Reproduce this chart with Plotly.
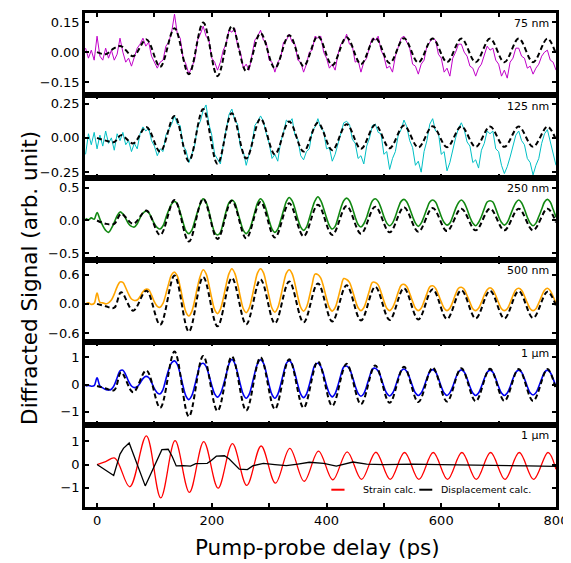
import plotly.graph_objects as go
from plotly.subplots import make_subplots

# ---------------- data ----------------
# measured traces, sampled every 5 ps from -20 to 800 ps
t_exp = list(range(-20, 801, 5))

sig_75nm = [
    0.02, -0.03, 0.01, -0.04, 0.08, -0.02, -0.04, 0.02, -0.03, 0.01, -0.04, -0.01, 0.07, 0.0, -0.05, -0.03,
    -0.07, -0.02, 0.02, 0.04, 0.07, 0.03, 0.05, -0.02, -0.05, -0.08, -0.05, -0.04, 0.03, 0.05, 0.10,
    0.19, 0.09, 0.07, -0.03, -0.06, -0.11, -0.07, -0.04, 0.06, 0.09,
    0.13, 0.08, 0.06, -0.03, -0.05, -0.09, -0.05, 0.01, 0.04, 0.11,
    0.10, 0.12, 0.03, 0.00, -0.08, -0.06, -0.09, -0.02, 0.06, 0.08,
    0.11, 0.06, 0.05, -0.04, -0.05, -0.10, -0.05, -0.03, 0.05, 0.06,
    0.09, 0.05, 0.04, -0.04, -0.05, -0.10, -0.06, 0.00, 0.01, 0.08,
    0.07, 0.08, 0.00, -0.03, -0.08, -0.06, -0.09, -0.01, 0.04, 0.05,
    0.09, 0.04, 0.03, -0.05, -0.04, -0.10, -0.05, -0.03, 0.03, 0.07,
    0.06, 0.08, 0.01, -0.02, -0.08, -0.07, -0.10, -0.02, 0.02, 0.07,
    0.08, 0.05, 0.02, -0.06, -0.07, -0.11, -0.06, -0.04, 0.03, 0.05,
    0.07, 0.06, -0.01, -0.03, -0.10, -0.08, -0.12, -0.03, 0.00, 0.04,
    0.04, 0.00, -0.02, -0.07, -0.08, -0.12, -0.08, -0.06, -0.01, 0.03,
    0.01, 0.02, -0.04, -0.06, -0.12, -0.09, -0.13, -0.05, -0.03, 0.02,
    0.02, -0.02, -0.03, -0.08, -0.07, -0.11, -0.08, -0.06, -0.02, 0.00,
    0.01, -0.04, -0.05, -0.09,
]

sig_125nm = [
    -0.12, 0.03, -0.05, 0.04, -0.08, 0.02, -0.06, 0.05, -0.04, 0.00, -0.09, 0.03, -0.02, 0.04, -0.05, -0.02,
    -0.10, -0.04, -0.08, 0.03, 0.08, 0.05, 0.07, -0.02, -0.06, -0.13, -0.08, -0.10, 0.02, 0.06, 0.10,
    0.16, 0.10, 0.09, -0.06, -0.09, -0.18, -0.12, -0.06, 0.08, 0.12,
    0.20, 0.24, 0.10, 0.02, -0.12, -0.16, -0.19, -0.05, 0.06, 0.17,
    0.21, 0.13, 0.10, -0.07, -0.10, -0.20, -0.12, -0.05, 0.09, 0.12,
    0.16, 0.12, 0.03, -0.04, -0.15, -0.12, -0.17, -0.03, 0.04, 0.13,
    0.11, 0.14, 0.02, -0.01, -0.13, -0.16, -0.10, -0.08, 0.05, 0.08,
    0.14, 0.07, 0.05, -0.08, -0.07, -0.17, -0.12, -0.04, 0.02, 0.11,
    0.12, 0.10, -0.01, -0.04, -0.15, -0.13, -0.19, -0.06, 0.00, 0.09,
    0.10, 0.04, 0.03, -0.12, -0.10, -0.23, -0.15, -0.10, 0.02, 0.06,
    0.13, 0.08, -0.02, -0.07, -0.20, -0.17, -0.25, -0.10, -0.02, 0.10,
    0.14, 0.05, 0.04, -0.12, -0.10, -0.24, -0.18, -0.08, 0.00, 0.07,
    0.11, 0.06, -0.03, -0.06, -0.18, -0.16, -0.22, -0.09, -0.04, 0.05,
    0.03, 0.05, -0.08, -0.10, -0.20, -0.26, -0.21, -0.14, -0.06, 0.02,
    0.05, -0.02, -0.05, -0.15, -0.18, -0.27, -0.20, -0.15, -0.04, 0.03,
    0.06, -0.03, -0.12, -0.20,
]

sig_250nm = [
    0.03, 0.01, 0.04, 0.02, 0.12, 0.02, -0.08, -0.15, -0.18, -0.12, -0.03, 0.07, 0.13, 0.10, 0.03, -0.05,
    -0.09, -0.10, -0.05, 0.04, 0.11, 0.14, 0.12, 0.04, -0.05, -0.11, -0.13, -0.08, 0.04, 0.16, 0.25,
    0.29, 0.25, 0.12, -0.03, -0.16, -0.20, -0.15, -0.02, 0.13, 0.25,
    0.33, 0.28, 0.14, -0.04, -0.18, -0.22, -0.18, -0.03, 0.14, 0.27,
    0.31, 0.27, 0.13, -0.02, -0.15, -0.20, -0.15, -0.03, 0.13, 0.27,
    0.33, 0.28, 0.16, 0.00, -0.13, -0.18, -0.13, 0.00, 0.15, 0.29,
    0.35, 0.30, 0.18, 0.02, -0.10, -0.15, -0.10, 0.03, 0.18, 0.30,
    0.36, 0.30, 0.18, 0.04, -0.08, -0.13, -0.09, 0.04, 0.19, 0.30,
    0.34, 0.30, 0.19, 0.05, -0.06, -0.10, -0.05, 0.05, 0.19, 0.30,
    0.33, 0.29, 0.19, 0.06, -0.04, -0.08, -0.04, 0.06, 0.19, 0.29,
    0.32, 0.28, 0.18, 0.06, -0.04, -0.09, -0.04, 0.06, 0.18, 0.28,
    0.31, 0.28, 0.18, 0.06, -0.03, -0.07, -0.04, 0.06, 0.18, 0.27,
    0.31, 0.27, 0.17, 0.05, -0.04, -0.08, -0.03, 0.06, 0.18, 0.28,
    0.30, 0.28, 0.18, 0.06, -0.03, -0.07, -0.03, 0.07, 0.18, 0.27,
    0.31, 0.27, 0.17, 0.05, -0.04, -0.08, -0.04, 0.06, 0.17, 0.28,
    0.32, 0.28, 0.17, 0.05,
]

sig_500nm = [
    0.00, 0.02, -0.01, 0.01, 0.22, 0.03, 0.02, 0.00, 0.02, 0.08, 0.20, 0.35, 0.45, 0.44, 0.33, 0.20,
    0.10, 0.07, 0.08, 0.15, 0.25, 0.30, 0.29, 0.18, 0.04, -0.05, -0.07, 0.01, 0.20, 0.42, 0.60,
    0.65, 0.57, 0.34, 0.06, -0.17, -0.25, -0.16, 0.06, 0.34, 0.57,
    0.70, 0.62, 0.39, 0.11, -0.12, -0.20, -0.11, 0.11, 0.39, 0.62,
    0.72, 0.63, 0.41, 0.13, -0.10, -0.18, -0.09, 0.13, 0.41, 0.64,
    0.72, 0.64, 0.41, 0.14, -0.09, -0.17, -0.08, 0.14, 0.41, 0.63,
    0.70, 0.62, 0.41, 0.14, -0.07, -0.15, -0.07, 0.14, 0.40, 0.61,
    0.60, 0.53, 0.34, 0.11, -0.08, -0.15, -0.08, 0.11, 0.34, 0.52,
    0.50, 0.44, 0.28, 0.08, -0.08, -0.14, -0.08, 0.08, 0.28, 0.44,
    0.44, 0.39, 0.24, 0.06, -0.09, -0.14, -0.08, 0.06, 0.24, 0.38,
    0.40, 0.35, 0.21, 0.05, -0.09, -0.14, -0.09, 0.05, 0.21, 0.35,
    0.37, 0.32, 0.19, 0.04, -0.09, -0.14, -0.09, 0.04, 0.20, 0.32,
    0.34, 0.30, 0.17, 0.03, -0.10, -0.14, -0.09, 0.03, 0.18, 0.29,
    0.33, 0.29, 0.17, 0.02, -0.10, -0.14, -0.10, 0.02, 0.17, 0.29,
    0.32, 0.28, 0.16, 0.02, -0.10, -0.14, -0.10, 0.02, 0.16, 0.28,
    0.32, 0.27, 0.15, 0.01,
]

sig_1um = [
    -0.05, -0.03, -0.06, -0.04, 0.25, -0.05, -0.12, -0.18, -0.20, -0.17, -0.02, 0.25, 0.50, 0.53, 0.36, 0.12,
    -0.05, -0.11, -0.08, 0.05, 0.22, 0.30, 0.26, 0.08, -0.15, -0.30, -0.34, -0.18, 0.20, 0.55, 0.80,
    0.87, 0.74, 0.38, -0.06, -0.42, -0.55, -0.41, -0.06, 0.37, 0.72,
    0.78, 0.67, 0.35, -0.03, -0.34, -0.46, -0.34, -0.03, 0.36, 0.76,
    0.92, 0.78, 0.43, -0.01, -0.36, -0.50, -0.37, -0.01, 0.43, 0.78,
    0.91, 0.79, 0.43, -0.02, -0.37, -0.50, -0.36, 0.00, 0.42, 0.78,
    0.88, 0.75, 0.41, -0.01, -0.35, -0.48, -0.35, -0.01, 0.40, 0.73,
    0.78, 0.66, 0.36, -0.03, -0.33, -0.45, -0.33, -0.02, 0.35, 0.65,
    0.68, 0.58, 0.30, -0.05, -0.32, -0.43, -0.33, -0.05, 0.29, 0.57,
    0.60, 0.50, 0.25, -0.07, -0.32, -0.42, -0.32, -0.07, 0.25, 0.50,
    0.57, 0.48, 0.24, -0.06, -0.31, -0.40, -0.31, -0.07, 0.23, 0.47,
    0.55, 0.47, 0.23, -0.07, -0.31, -0.40, -0.30, -0.07, 0.23, 0.46,
    0.54, 0.46, 0.22, -0.08, -0.31, -0.40, -0.31, -0.07, 0.22, 0.45,
    0.53, 0.45, 0.22, -0.08, -0.31, -0.40, -0.31, -0.08, 0.22, 0.45,
    0.53, 0.45, 0.22, -0.07, -0.30, -0.38, -0.30, -0.07, 0.21, 0.45,
    0.53, 0.44, 0.21, -0.08,
]

# calculated diffraction (dashed), sampled at turning points
t_calc = [0, 15, 30, 42, 63, 86, 110, 135, 160, 185, 210, 235, 260, 285, 310, 335, 360, 385, 410,
          435, 460, 485, 510, 535, 560, 585, 610, 635, 660, 685, 710, 735, 760, 785, 800]
calc_75nm = [0.0, -0.01, 0.02, 0.03, -0.02, 0.064, -0.073, 0.12, -0.11, 0.148, -0.12, 0.13, -0.095,
             0.095, -0.08, 0.085, -0.07, 0.08, -0.065, 0.075, -0.06, 0.072, -0.055, 0.07, -0.052,
             0.068, -0.05, 0.068, -0.05, 0.068, -0.05, 0.068, -0.05, 0.068, -0.01]
calc_125nm = [0.0, -0.02, -0.03, 0.02, -0.04, 0.08, -0.10, 0.16, -0.17, 0.21, -0.19, 0.18, -0.15,
              0.14, -0.12, 0.12, -0.10, 0.11, -0.09, 0.10, -0.08, 0.095, -0.075, 0.09, -0.07,
              0.085, -0.068, 0.083, -0.066, 0.082, -0.065, 0.082, -0.065, 0.082, -0.015]
calc_250nm = [0.0, -0.05, -0.05, 0.10, -0.05, 0.15, -0.22, 0.31, -0.32, 0.33, -0.28, 0.30, -0.27,
              0.28, -0.26, 0.26, -0.24, 0.24, -0.22, 0.22, -0.20, 0.21, -0.18, 0.20, -0.17,
              0.19, -0.16, 0.18, -0.15, 0.18, -0.15, 0.18, -0.15, 0.18, -0.03]
calc_500nm = [0.0, -0.05, -0.08, 0.24, -0.14, 0.27, -0.43, 0.58, -0.57, 0.55, -0.46, 0.53, -0.42,
              0.50, -0.40, 0.46, -0.38, 0.42, -0.36, 0.38, -0.34, 0.35, -0.33, 0.32, -0.32,
              0.30, -0.31, 0.28, -0.30, 0.27, -0.30, 0.26, -0.29, 0.25, -0.04]
calc_1um = [-0.05, -0.14, -0.20, 0.45, -0.28, 0.52, -0.85, 1.21, -1.17, 1.05, -0.97, 1.03, -0.95,
            1.00, -0.90, 0.93, -0.85, 0.85, -0.78, 0.76, -0.72, 0.70, -0.67, 0.65, -0.64,
            0.62, -0.62, 0.60, -0.61, 0.58, -0.60, 0.57, -0.60, 0.57, -0.20]

# bottom panel: calculated strain and displacement (1 um)
t_strain = [0, 15, 31, 57, 86, 111, 136, 161, 186, 211, 236, 261, 286, 311, 336, 361, 386, 411,
            436, 461, 486, 511, 536, 561, 586, 611, 636, 661, 686, 711, 736, 761, 786, 800]
strain_1um = [0.0, 0.13, 0.28, -0.96, 1.24, -1.44, 1.03, -1.20, 0.99, -1.02, 0.90, -0.90, 0.80,
              -0.80, 0.70, -0.72, 0.58, -0.66, 0.55, -0.64, 0.53, -0.64, 0.52, -0.64, 0.52,
              -0.64, 0.52, -0.64, 0.52, -0.64, 0.52, -0.64, 0.52, -0.20]
t_disp = [0, 29, 40, 46, 56, 84, 113, 124, 131, 138, 150, 163, 172, 192, 198, 208, 222, 230, 248,
          262, 272, 290, 310, 330, 350, 370, 395, 417, 446, 470, 500, 550, 600, 650, 700, 750, 800]
disp_1um = [0.0, -0.47, 0.45, 0.70, 0.93, -0.92, 0.64, 0.66, 0.35, -0.06, -0.05, -0.07, 0.04, 0.05,
            0.15, 0.36, 0.38, 0.25, -0.20, -0.22, -0.05, 0.05, 0.00, -0.05, 0.02, 0.10, 0.05, -0.07,
            0.11, 0.02, 0.00, 0.02, 0.00, -0.03, -0.05, -0.06, -0.08]

panel_labels = ["75 nm", "125 nm", "250 nm", "500 nm", "1 µm", "1 µm"]
y_ranges = [[-0.216, 0.196], [-0.29, 0.31], [-0.6, 0.65], [-0.79, 0.9], [-1.47, 1.55], [-1.83, 1.72]]
y_ticks = [[-0.15, 0.0, 0.15], [-0.25, 0.0, 0.25], [-0.5, 0.0, 0.5], [-0.6, 0.0, 0.6], [-1, 0, 1], [-1, 0, 1]]
y_formats = [".2f", ".2f", ".1f", ".1f", "d", "d"]
x_tickvals = [0, 100, 200, 300, 400, 500, 600, 700, 800]
x_ticktext = ["0", "", "200", "", "400", "", "600", "", "800"]

measured = [sig_75nm, sig_125nm, sig_250nm, sig_500nm, sig_1um]
calcs = [calc_75nm, calc_125nm, calc_250nm, calc_500nm, calc_1um]
colors = ["#c000c8", "#00bfc4", "#118811", "#ffa500", "#0000f0"]
widths = [1.0, 1.0, 1.6, 1.6, 1.6]

# ---------------- figure ----------------
# the page body adds an 8 px margin, so the figure is 8 px smaller and shifted
fig = make_subplots(rows=6, cols=1, shared_xaxes=True, vertical_spacing=0)

for i in range(5):
    fig.add_trace(go.Scatter(x=t_exp, y=measured[i], mode="lines",
                             line=dict(color=colors[i], width=widths[i],
                                       shape="linear" if i < 2 else "spline"),
                             showlegend=False), row=i + 1, col=1)
    fig.add_trace(go.Scatter(x=t_calc, y=calcs[i], mode="lines",
                             line=dict(color="black", width=2, dash="5px,3px", shape="spline"),
                             showlegend=False), row=i + 1, col=1)

fig.add_trace(go.Scatter(x=t_strain, y=strain_1um, mode="lines",
                         line=dict(color="#ff0000", width=1.3, shape="spline"),
                         name="Strain calc.", showlegend=False), row=6, col=1)
fig.add_trace(go.Scatter(x=t_disp, y=disp_1um, mode="lines",
                         line=dict(color="black", width=1.3),
                         name="Displacement calc.", showlegend=False), row=6, col=1)

font_family = "DejaVu Sans"
for r in range(1, 7):
    fig.update_xaxes(row=r, col=1, range=[-21, 800], tickvals=x_tickvals, ticktext=x_ticktext,
                     ticks="inside", ticklen=4, tickwidth=2, tickcolor="black",
                     showline=True, linewidth=2.5, linecolor="black", mirror="ticks",
                     showgrid=False, zeroline=False, showticklabels=(r == 6),
                     tickfont=dict(family=font_family, size=13, color="black"))
    fig.update_yaxes(row=r, col=1, range=y_ranges[r - 1], tickvals=y_ticks[r - 1],
                     tickformat=y_formats[r - 1],
                     ticks="inside", ticklen=4, tickwidth=2, tickcolor="black",
                     showline=True, linewidth=2.5, linecolor="black", mirror="ticks",
                     showgrid=False, zeroline=False,
                     tickfont=dict(family=font_family, size=13, color="black"))
    yname = "y" if r == 1 else f"y{r}"
    xname = "x" if r == 1 else f"x{r}"
    fig.add_annotation(text=panel_labels[r - 1], xref=f"{xname} domain", yref=f"{yname} domain",
                       x=0.989, y=0.87, xanchor="right", yanchor="middle", showarrow=False,
                       font=dict(family=font_family, size=11, color="black"))

# manual legend in bottom panel
fig.add_shape(type="line", xref="x6 domain", yref="y6 domain", x0=0.523, x1=0.551, y0=0.21, y1=0.21,
              line=dict(color="#ff0000", width=2))
fig.add_annotation(text="Strain calc.", xref="x6 domain", yref="y6 domain", x=0.585, y=0.21,
                   xanchor="left", yanchor="middle", showarrow=False,
                   font=dict(family=font_family, size=9.5, color="black"))
fig.add_shape(type="line", xref="x6 domain", yref="y6 domain", x0=0.7097, x1=0.7373, y0=0.21, y1=0.21,
              line=dict(color="black", width=2))
fig.add_annotation(text="Displacement calc.", xref="x6 domain", yref="y6 domain", x=0.752, y=0.21,
                   xanchor="left", yanchor="middle", showarrow=False,
                   font=dict(family=font_family, size=9.5, color="black"))

# axis titles
fig.add_annotation(text="Pump-probe delay (ps)", xref="paper", yref="paper", x=0.494, y=-0.0827,
                   xanchor="center", yanchor="middle", showarrow=False,
                   font=dict(family=font_family, size=21.5, color="black"))
fig.add_annotation(text="Diffracted Signal (arb. unit)", xref="paper", yref="paper", x=-0.1165, y=0.464,
                   xanchor="center", yanchor="middle", textangle=-90, showarrow=False,
                   font=dict(family=font_family, size=21.5, color="black"))

fig.update_layout(width=563, height=555, margin=dict(l=77, r=14, t=3, b=56),
                  plot_bgcolor="white", paper_bgcolor="white", showlegend=False,
                  font=dict(family=font_family, size=13, color="black"))

fig.write_html("out.html")
